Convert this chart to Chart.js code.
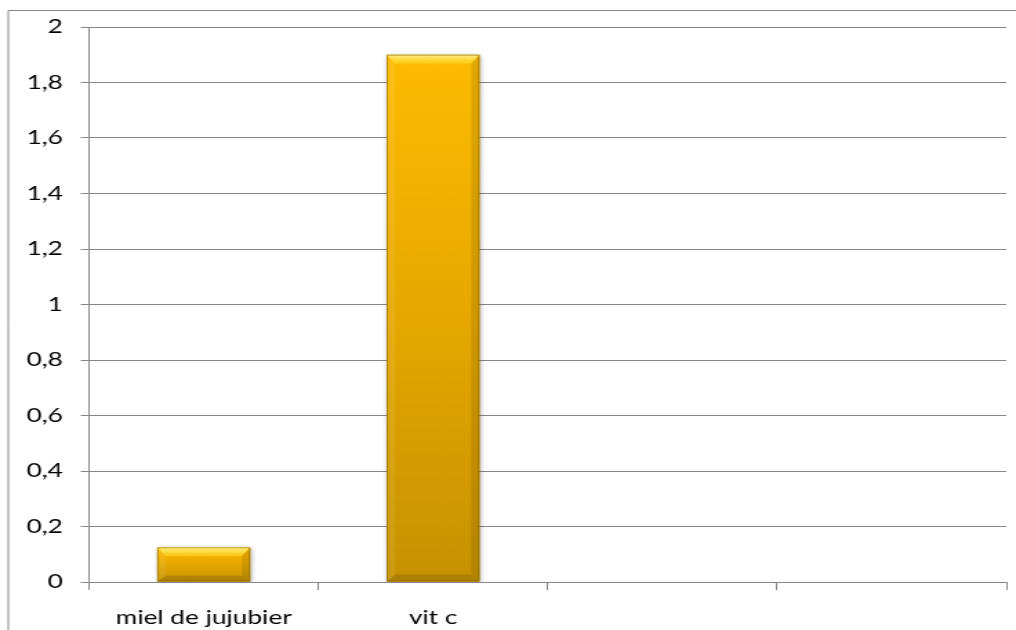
<!DOCTYPE html>
<html>
<head>
<meta charset="utf-8">
<title>miel de jujubier / vit c</title>
<script src="https://cdn.jsdelivr.net/npm/chart.js@4.4.1/dist/chart.umd.min.js"></script>
<style>
  html, body { margin: 0; padding: 0; background: #fff; overflow: hidden; }
  /* chart is drawn narrow and stretched sideways to fill the window */
  #wrap { width: 736px; height: 630px; transform: scaleX(1.38043); transform-origin: 0 0; }
</style>
</head>
<body>
<div id="wrap"><canvas id="barChart" width="736" height="630"></canvas></div>
<script>
// Data
const categories = ['miel de jujubier', 'vit c', '', ''];
const values = [0.125, 1.9, null, null];
const yMin = 0;
const yMax = 2;
const yStep = 0.2;

const GRID = '#868686';
const FONT = { family: 'Lato', size: 19 };

// Outer border of the chart object (only left and top edges fit in the window)
const framePlugin = {
  id: 'frame',
  beforeDraw(chart) {
    const ctx = chart.ctx;
    ctx.save();
    ctx.strokeStyle = GRID;
    ctx.lineWidth = 1;
    ctx.beginPath();
    ctx.moveTo(6, chart.height);
    ctx.lineTo(6, 10.5);
    ctx.lineTo(chart.width, 10.5);
    ctx.stroke();
    ctx.restore();
  }
};

// Soft shadow under the bars plus a bevelled, shaded face drawn on top
const bevelPlugin = {
  id: 'bevel',
  beforeDatasetsDraw(chart) {
    const ctx = chart.ctx;
    ctx.save();
    ctx.shadowColor = 'rgba(0,0,0,0.35)';
    ctx.shadowBlur = 4;
    ctx.shadowOffsetX = 1;
    ctx.shadowOffsetY = 1;
  },
  afterDatasetsDraw(chart) {
    const ctx = chart.ctx;
    ctx.restore();
    const meta = chart.getDatasetMeta(0);
    meta.data.forEach((bar, i) => {
      if (values[i] === null) return;
      const { x, y, base, width } = bar.getProps(['x', 'y', 'base', 'width'], true);
      const L = x - width / 2, R = x + width / 2, T = y, B = base;
      const h = B - T;
      const bx = 6;
      const bt = Math.min(9, h * 0.3);
      const bb = Math.min(7, h * 0.17);

      ctx.save();
      // body gradient
      const g = ctx.createLinearGradient(0, T, 0, B);
      g.addColorStop(0, '#FDBB00');
      g.addColorStop(0.5, '#E6A800');
      g.addColorStop(1, '#C69200');
      ctx.fillStyle = g;
      ctx.fillRect(L, T, width, h);

      const poly = (pts, fill) => {
        ctx.beginPath();
        ctx.moveTo(pts[0][0], pts[0][1]);
        pts.slice(1).forEach(p => ctx.lineTo(p[0], p[1]));
        ctx.closePath();
        ctx.fillStyle = fill;
        ctx.fill();
      };
      // top bevel
      const tg = ctx.createLinearGradient(0, T, 0, T + bt);
      tg.addColorStop(0, 'rgba(255,245,150,0.9)');
      tg.addColorStop(1, 'rgba(255,220,40,0.5)');
      poly([[L, T], [R, T], [R - bx, T + bt], [L + bx, T + bt]], tg);
      // left bevel
      poly([[L, T], [L + bx, T + bt], [L + bx, B - bb], [L, B]], 'rgba(255,255,255,0.08)');
      // right bevel
      poly([[R, T], [R - bx, T + bt], [R - bx, B - bb], [R, B]], 'rgba(90,60,0,0.16)');
      // bottom bevel
      poly([[L, B], [R, B], [R - bx, B - bb], [L + bx, B - bb]], 'rgba(80,50,0,0.2)');

      // thin edge
      ctx.strokeStyle = 'rgba(120,90,0,0.5)';
      ctx.lineWidth = 1;
      ctx.strokeRect(L + 0.5, T + 0.5, width - 1, h - 1);
      ctx.restore();
    });
  }
};

const ctx = document.getElementById('barChart');

new Chart(ctx, {
  type: 'bar',
  data: {
    labels: categories,
    datasets: [{
      data: values,
      backgroundColor: '#E6A800',
      borderWidth: 0,
      barPercentage: 0.405,
      categoryPercentage: 1
    }]
  },
  options: {
    responsive: false,
    animation: false,
    devicePixelRatio: 1,
    layout: { padding: { left: 0, right: 7, top: 27, bottom: 0 } },
    plugins: {
      legend: { display: false },
      tooltip: { enabled: false }
    },
    scales: {
      x: {
        offset: true,
        grid: {
          offset: true,
          drawOnChartArea: false,
          drawTicks: true,
          tickLength: 8,
          color: GRID
        },
        border: { color: GRID, width: 1 },
        ticks: {
          color: '#000',
          padding: 16,
          maxRotation: 0,
          autoSkip: false,
          font: FONT
        },
        afterFit(scale) { scale.height = 48; }
      },
      y: {
        min: yMin,
        max: yMax,
        grid: {
          color: GRID,
          tickLength: 6,
          drawTicks: true
        },
        border: { color: GRID, width: 1 },
        ticks: {
          stepSize: yStep,
          color: '#000',
          padding: 13,
          font: FONT,
          callback: v => Number(v.toFixed(1)).toString().replace('.', ',')
        },
        afterFit(scale) { scale.width = 64.5; }
      }
    }
  },
  plugins: [framePlugin, bevelPlugin]
});
</script>
</body>
</html>
